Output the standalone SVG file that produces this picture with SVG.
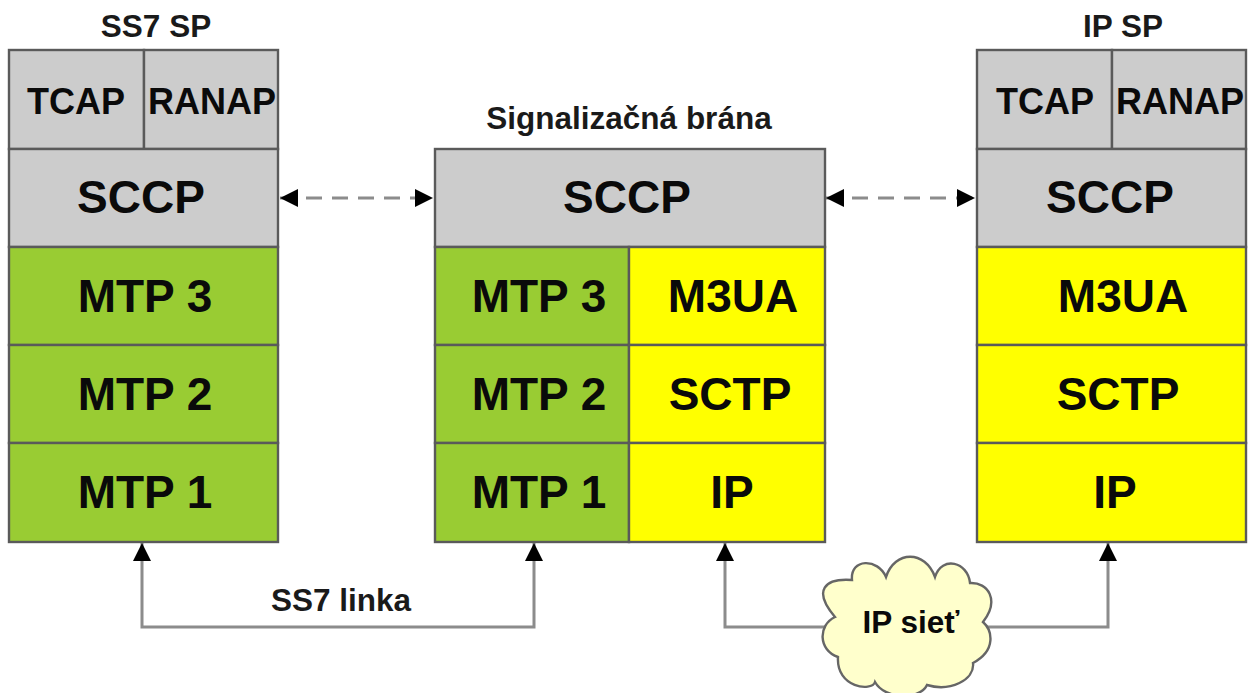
<svg xmlns="http://www.w3.org/2000/svg" width="1252" height="693" viewBox="0 0 1252 693">
<style>
text{font-family:"Liberation Sans",Arial,sans-serif;font-weight:bold;fill:#0a0a0a;text-anchor:middle}
.b{stroke:#5a5a5a;stroke-width:2.4}
.g{fill:#cccccc}.n{fill:#99cc33}.y{fill:#ffff00}
.big{font-size:46px}.mid{font-size:36px}.t{font-size:31.5px;fill:#1a1a1a}
.c{fill:none;stroke:#8c8c8c;stroke-width:3}
.d{fill:none;stroke:#8c8c8c;stroke-width:3;stroke-dasharray:16 10}
</style>
<defs>
<marker id="a" markerUnits="userSpaceOnUse" markerWidth="20" markerHeight="20" refX="18" refY="10" orient="auto-start-reverse"><path d="M0 1L18 10L0 19Z" fill="#000"/></marker>
</defs>
<rect width="1252" height="693" fill="#fff"/>
<g id="connectors">
<path class="c" marker-start="url(#a)" marker-end="url(#a)" d="M142 543V627H534V543"/>
<path class="c" marker-start="url(#a)" d="M725 543V627H830"/>
<path class="c" marker-end="url(#a)" d="M980 627H1108V543"/>
<path class="d" marker-start="url(#a)" marker-end="url(#a)" d="M280 198H433"/>
<path class="d" marker-start="url(#a)" marker-end="url(#a)" d="M826 198H975"/>
</g>
<g id="ss7-sp">
<text class="t" x="156" y="37">SS7 SP</text>
<rect class="b g" x="9" y="50" width="135" height="99"/><text class="mid" x="76" y="114">TCAP</text>
<rect class="b g" x="144" y="50" width="134" height="99"/><text class="mid" x="212" y="114">RANAP</text>
<rect class="b g" x="9" y="149" width="269" height="98"/><text class="big" x="141" y="213">SCCP</text>
<rect class="b n" x="9" y="247" width="269" height="98"/><text class="big" x="145" y="312">MTP 3</text>
<rect class="b n" x="9" y="345" width="269" height="98"/><text class="big" x="145" y="410">MTP 2</text>
<rect class="b n" x="9" y="443" width="269" height="99"/><text class="big" x="145" y="508">MTP 1</text>
</g>
<g id="signalizacna-brana">
<text class="t" x="629" y="129">Signalizačná brána</text>
<rect class="b g" x="435" y="149" width="390" height="98"/><text class="big" x="627" y="213">SCCP</text>
<rect class="b n" x="435" y="247" width="194" height="98"/><text class="big" x="539" y="312">MTP 3</text>
<rect class="b n" x="435" y="345" width="194" height="98"/><text class="big" x="539" y="410">MTP 2</text>
<rect class="b n" x="435" y="443" width="194" height="99"/><text class="big" x="539" y="508">MTP 1</text>
<rect class="b y" x="629" y="247" width="196" height="98"/><text class="big" x="733" y="312">M3UA</text>
<rect class="b y" x="629" y="345" width="196" height="98"/><text class="big" x="730" y="410">SCTP</text>
<rect class="b y" x="629" y="443" width="196" height="99"/><text class="big" x="732" y="508">IP</text>
</g>
<g id="ip-sp">
<text class="t" x="1123" y="37">IP SP</text>
<rect class="b g" x="977" y="50" width="135" height="99"/><text class="mid" x="1045" y="114">TCAP</text>
<rect class="b g" x="1112" y="50" width="134" height="99"/><text class="mid" x="1180" y="114">RANAP</text>
<rect class="b g" x="977" y="149" width="269" height="98"/><text class="big" x="1110" y="213">SCCP</text>
<rect class="b y" x="977" y="247" width="269" height="98"/><text class="big" x="1123" y="312">M3UA</text>
<rect class="b y" x="977" y="345" width="269" height="98"/><text class="big" x="1118" y="410">SCTP</text>
<rect class="b y" x="977" y="443" width="269" height="99"/><text class="big" x="1115" y="508">IP</text>
</g>
<g id="ss7-linka"><text class="t" x="341" y="611">SS7 linka</text></g>
<g id="ip-siet">
<path fill="#ffffcc" stroke="#666" stroke-width="2.4" d="M835 617C818 625 818 650 838 657C836 688 872 692 875 682C885 700 920 700 927 685C950 692 975 680 973 663C997 650 992 630 983 622C1000 600 988 582 970 583C968 562 942 555 935 577C925 550 895 550 886 577C878 558 850 558 852 580C825 578 812 590 835 617Z"/>
<text x="911" y="633" style="font-size:31.5px">IP sieť</text>
</g>
</svg>
